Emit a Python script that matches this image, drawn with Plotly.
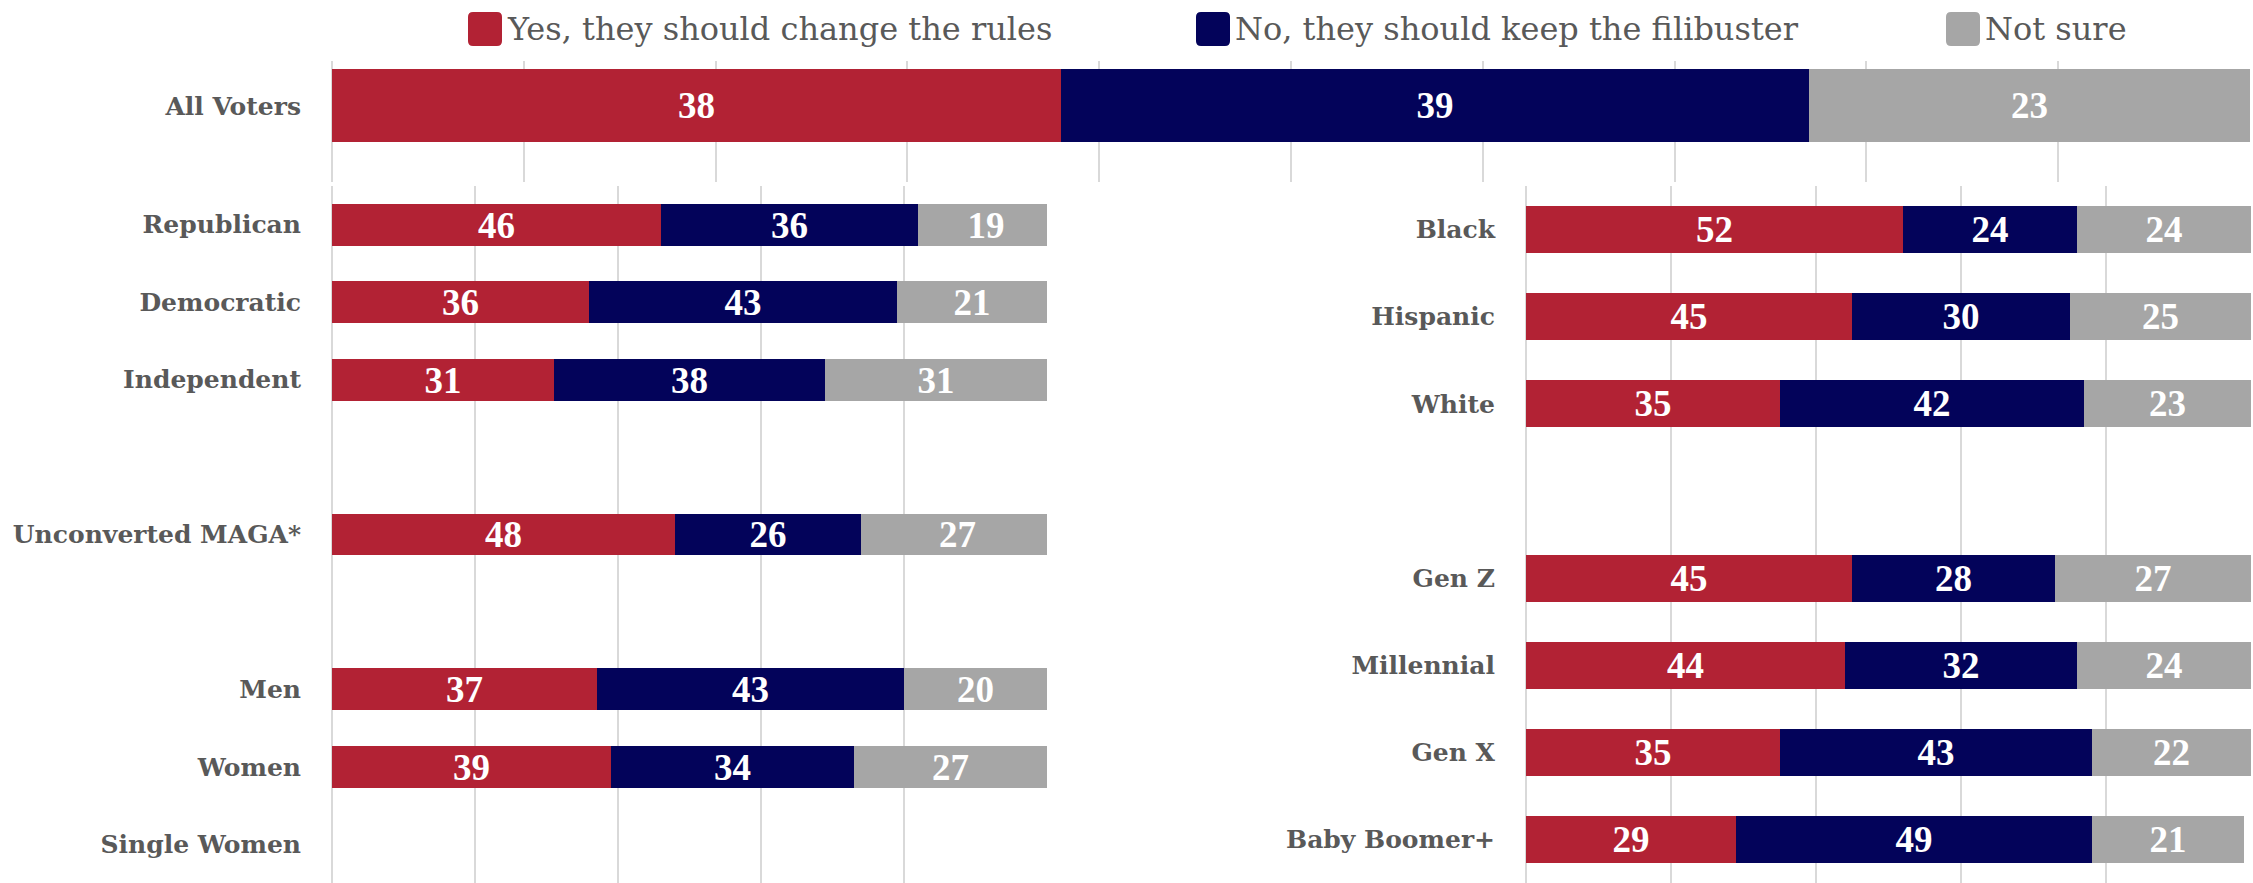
import plotly.graph_objects as go

W, H = 2253, 883

# ---- data ----
series_names = ["Yes, they should change the rules", "No, they should keep the filibuster", "Not sure"]
colors = ["#B22234", "#03035A", "#A6A6A6"]

top_cats = ["All Voters"]
top_yes = [38]
top_no = [39]
top_ns = [23]

left_cats = ["Republican", "Democratic", "Independent", " ", "Unconverted MAGA*", "  ", "Men", "Women", "Single Women"]
left_yes = [46, 36, 31, None, 48, None, 37, 39, None]
left_no = [36, 43, 38, None, 26, None, 43, 34, None]
left_ns = [19, 21, 31, None, 27, None, 20, 27, None]

right_cats = ["Black", "Hispanic", "White", " ", "Gen Z", "Millennial", "Gen X", "Baby Boomer+"]
right_yes = [52, 45, 35, None, 45, 44, 35, 29]
right_no = [24, 30, 42, None, 28, 32, 43, 49]
right_ns = [24, 25, 23, None, 27, 24, 22, 21]

TICK_FONT = dict(family="DejaVu Serif", size=25, color="#595959", weight="bold")
LEG_FONT = dict(family="DejaVu Serif", size=32, color="#595959")
GRID = "#D9D9D9"

def px_x(p):
    return p / W

def px_y(p):
    return 1 - p / H

fig = go.Figure()

def add_panel(cats, yes, no, ns, xa, ya, width, ypos=None):
    for name, vals, col in zip(series_names, [yes, no, ns], colors):
        fig.add_trace(go.Bar(
            y=ypos if ypos is not None else cats, x=vals, name=name, orientation="h",
            marker=dict(color=col, line=dict(width=0)),
            width=width,
            text=vals, textposition="inside", insidetextanchor="middle",
            constraintext="none", textangle=0,
            textfont=dict(family="Liberation Serif", size=37, color="white", weight="bold"),
            xaxis=xa, yaxis=ya, showlegend=False, hoverinfo="skip",
        ))

add_panel(top_cats, top_yes, top_no, top_ns, "x", "y", 1.0, ypos=[0])
add_panel(left_cats, left_yes, left_no, left_ns, "x2", "y2", 0.54)
add_panel(right_cats, right_yes, right_no, right_ns, "x3", "y3", 0.54)

xcommon = dict(range=[0, 100], showgrid=True, gridcolor=GRID, gridwidth=2,
               zeroline=True, zerolinecolor=GRID, zerolinewidth=2,
               showticklabels=False, ticks="", showline=False, fixedrange=True)
ycommon = dict(showgrid=False, zeroline=False, showline=False, ticks="",
               tickfont=TICK_FONT, ticklabelstandoff=30, fixedrange=True)

fig.update_layout(
    width=W, height=H, barmode="stack",
    margin=dict(l=0, r=0, t=0, b=0),
    paper_bgcolor="white", plot_bgcolor="white",
    bargap=0,
    xaxis=dict(domain=[px_x(332), px_x(2250)], dtick=10, anchor="y", **xcommon),
    yaxis=dict(domain=[px_y(182), px_y(61)], range=[-1.041, 0.616], tickvals=[0], ticktext=top_cats,
               anchor="x", **ycommon),
    xaxis2=dict(domain=[px_x(332), px_x(1047)], dtick=20, anchor="y2", **xcommon),
    yaxis2=dict(domain=[0, px_y(186)], type="category", categoryorder="array", categoryarray=left_cats,
                range=[len(left_cats) - 0.5, -0.5], anchor="x2", **ycommon),
    xaxis3=dict(domain=[px_x(1526), px_x(2251)], dtick=20, anchor="y3", **xcommon),
    yaxis3=dict(domain=[0, px_y(186)], type="category", categoryorder="array", categoryarray=right_cats,
                range=[len(right_cats) - 0.5, -0.5], anchor="x3", **ycommon),
)

# ---- legend drawn manually (large rounded swatches) ----
def rounded_rect(x0, y0, x1, y1, r):
    X = lambda p: px_x(p)
    Y = lambda p: px_y(p)
    return (f"M{X(x0+r)},{Y(y0)} L{X(x1-r)},{Y(y0)} Q{X(x1)},{Y(y0)} {X(x1)},{Y(y0+r)} "
            f"L{X(x1)},{Y(y1-r)} Q{X(x1)},{Y(y1)} {X(x1-r)},{Y(y1)} "
            f"L{X(x0+r)},{Y(y1)} Q{X(x0)},{Y(y1)} {X(x0)},{Y(y1-r)} "
            f"L{X(x0)},{Y(y0+r)} Q{X(x0)},{Y(y0)} {X(x0+r)},{Y(y0)} Z")

legend_x = [468, 1196, 1946]
for lx, name, col in zip(legend_x, series_names, colors):
    fig.add_shape(type="path", xref="paper", yref="paper",
                  path=rounded_rect(lx, 12, lx + 34, 46, 5),
                  fillcolor=col, line=dict(width=0))
    fig.add_annotation(xref="paper", yref="paper", x=px_x(lx + 37), y=px_y(29),
                       xanchor="left", yanchor="middle", text=name, showarrow=False,
                       font=LEG_FONT)

fig.write_html("out.html", config={"displayModeBar": False},
               post_script="document.body.style.margin='0';document.body.style.overflow='hidden';")
